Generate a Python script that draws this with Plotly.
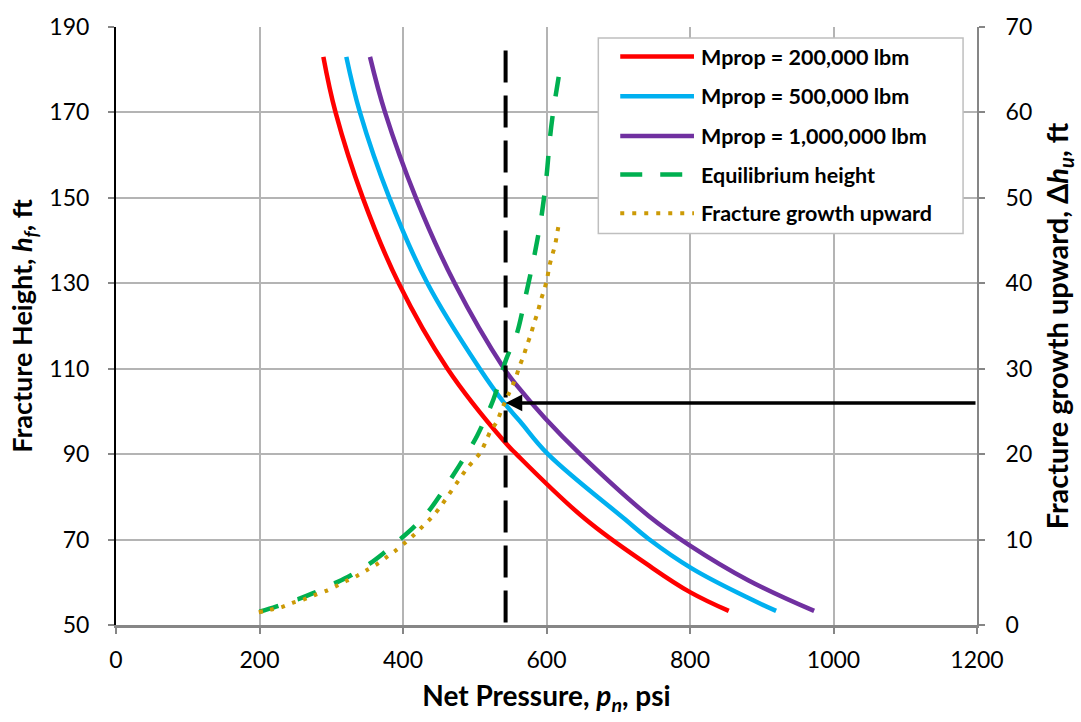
import plotly.graph_objects as go

# ---------------- data ----------------
red_p = [289, 306, 344, 394, 462, 541, 558, 654, 742, 800, 854]
red_h = [183, 170, 150, 130, 110, 93, 90, 74.8, 64, 57.7, 53.3]

blue_p = [321, 340, 381, 434, 507, 541, 563, 602, 709, 742, 803, 878, 920]
blue_h = [183, 170, 150, 130, 110, 102, 97.7, 90, 74.8, 70.2, 63.2, 56.6, 53.3]

purple_p = [354, 375, 418, 472, 541, 558, 598, 647, 742, 800, 881, 973]
purple_h = [183, 170, 150, 130, 110, 106.2, 98.4, 90, 75.6, 68.6, 60.5, 53.3]

eq_p = [200, 223, 253, 274, 304, 325, 353, 372, 397, 415, 436, 478, 503, 526, 544,
        559, 571, 583, 593, 600, 605, 610, 617]
eq_h = [53.1, 54.3, 56.0, 57.4, 59.7, 61.4, 64.3, 66.7, 70.2, 72.9, 76.7, 87.2, 94.2,
        102.8, 112.3, 118.4, 127.1, 136.4, 145.7, 155, 164.3, 171, 178.3]

up_p = [199, 215, 231, 246, 262, 277, 293, 308, 322, 337, 351, 365, 378, 391, 404, 416,
        428, 439, 450, 489, 508, 515, 522, 531, 537, 547, 557, 562, 568, 573, 578, 583,
        588, 592, 597, 601, 604, 608, 612, 615, 618]
up_dh = [1.5, 1.8, 2.1, 2.6, 3.0, 3.5, 4.0, 4.6, 5.2, 5.8, 6.5, 7.2, 8.0, 8.8, 9.7, 10.6,
         11.6, 12.5, 13.6, 18.3, 20.2, 21.4, 22.7, 23.8, 25.1, 27.0, 28.9, 30.2, 31.5, 32.8,
         34.0, 35.4, 36.7, 38.0, 39.3, 40.6, 42.0, 43.3, 44.5, 45.9, 47.3]

design_p = [543, 543]
design_h = [184.5, 50]
arrow_from_p = 1200
arrow_h = 102

legend_labels = ["Mprop = 200,000 lbm", "Mprop = 500,000 lbm", "Mprop = 1,000,000 lbm",
                 "Equilibrium height", "Fracture growth upward"]

x_ticks = [0, 200, 400, 600, 800, 1000, 1200]
y_ticks = [50, 70, 90, 110, 130, 150, 170, 190]
y2_ticks = [0, 10, 20, 30, 40, 50, 60, 70]

# ---------------- styling ----------------
RED = "#FF0000"
BLUE = "#00B0F0"
PURPLE = "#7030A0"
GREEN = "#00B050"
GOLD = "#CC9A06"
FONT = "Lato, 'Open Sans', sans-serif"
TICK_SIZE = 23
LTITLE_SIZE = 27
RTITLE_SIZE = 29
XTITLE_SIZE = 28
LEG_SIZE = 21.5

W, H = 1081, 722
L, R, T, B = 116, 101, 23, 97
PW, PH = W - L - R, H - T - B


def px(xp):
    return (xp - L) / PW


def py(yp):
    return (H - B - yp) / PH


fig = go.Figure()

fig.add_trace(go.Scatter(x=red_p, y=red_h, mode="lines", name=legend_labels[0],
                         line=dict(color=RED, width=4.5, shape="spline", smoothing=1.1)))
fig.add_trace(go.Scatter(x=blue_p, y=blue_h, mode="lines", name=legend_labels[1],
                         line=dict(color=BLUE, width=4.5, shape="spline", smoothing=1.1)))
fig.add_trace(go.Scatter(x=purple_p, y=purple_h, mode="lines", name=legend_labels[2],
                         line=dict(color=PURPLE, width=4.5, shape="spline", smoothing=1.1)))
fig.add_trace(go.Scatter(x=eq_p, y=eq_h, mode="lines", name=legend_labels[3],
                         line=dict(color=GREEN, width=4.5, dash="20px,20px",
                                   shape="spline", smoothing=0.8)))
fig.add_trace(go.Scatter(x=design_p, y=design_h, mode="lines", name="design",
                         line=dict(color="black", width=4, dash="32px,13px")))
fig.add_trace(go.Scatter(x=up_p, y=up_dh, mode="lines", name=legend_labels[4],
                         yaxis="y2",
                         line=dict(color=GOLD, width=4, dash="4px,7.5px",
                                   shape="spline", smoothing=0.8)))

annotations = [dict(x=design_p[0], y=arrow_h, ax=arrow_from_p, ay=arrow_h,
                    xref="x", yref="y", axref="x", ayref="y", text="",
                    showarrow=True, arrowhead=2, arrowsize=0.95, arrowwidth=3.5,
                    arrowcolor="black")]

# ---------------- legend box drawn as in the reference ----------------
shapes = [dict(type="rect", xref="paper", yref="paper",
               x0=px(600), x1=px(966), y0=py(231), y1=py(34),
               line=dict(color="#BFBFBF", width=1.5), fillcolor="white", layer="above")]
leg_y = [52.7, 92.7, 132.7, 171.5, 210.5]
leg_style = [dict(color=RED, width=4.5), dict(color=BLUE, width=4.5),
             dict(color=PURPLE, width=4.5), dict(color=GREEN, width=4.5, dash="22px,18px"),
             dict(color=GOLD, width=4, dash="4px,8px")]
for yy, st, lab in zip(leg_y, leg_style, legend_labels):
    shapes.append(dict(type="line", xref="paper", yref="paper",
                       x0=px(622), x1=px(696), y0=py(yy), y1=py(yy),
                       line=st, layer="above"))
    annotations.append(dict(x=px(701), y=py(yy), xref="paper", yref="paper",
                            text="<b>%s</b>" % lab, showarrow=False,
                            xanchor="left", yanchor="middle",
                            font=dict(family=FONT, size=LEG_SIZE, color="black")))

fig.update_layout(
    width=W, height=H,
    margin=dict(l=L, r=R, t=T, b=B, pad=0),
    paper_bgcolor="white", plot_bgcolor="white",
    font=dict(family=FONT, color="black"),
    showlegend=False,
    shapes=shapes,
    annotations=annotations,
    xaxis=dict(range=[0, 1200], tickvals=x_ticks, showgrid=True,
               gridcolor="#B4B4B4", gridwidth=1.5, zeroline=False,
               showline=True, linecolor="#868686", linewidth=2.5,
               ticks="outside", ticklen=6, tickcolor="#868686", tickwidth=2,
               ticklabelstandoff=7,
               tickfont=dict(family=FONT, size=TICK_SIZE, color="black"),
               title=dict(text="<b>Net Pressure, <i>p<sub>n</sub></i>, psi</b>",
                          font=dict(family=FONT, size=XTITLE_SIZE, color="black"),
                          standoff=15)),
    yaxis=dict(range=[50, 190], tickvals=y_ticks, showgrid=True,
               gridcolor="#B4B4B4", gridwidth=1.5, zeroline=False,
               showline=True, linecolor="black", linewidth=2,
               ticks="outside", ticklen=6, tickcolor="#868686", tickwidth=2,
               ticklabelstandoff=14,
               tickfont=dict(family=FONT, size=TICK_SIZE, color="black"),
               title=dict(text="<b>Fracture Height, <i>h<sub>f</sub></i>, ft</b>",
                          font=dict(family=FONT, size=LTITLE_SIZE, color="black"),
                          standoff=9)),
    yaxis2=dict(range=[0, 70], tickvals=y2_ticks, overlaying="y", side="right",
                showgrid=False, zeroline=False,
                showline=True, linecolor="#868686", linewidth=2,
                ticks="outside", ticklen=6, tickcolor="#868686", tickwidth=2,
                ticklabelstandoff=16,
                tickfont=dict(family=FONT, size=TICK_SIZE, color="black"),
                title=dict(text="<b>Fracture growth upward, Δ<i>h<sub>u</sub></i>, ft</b>",
                           font=dict(family=FONT, size=RTITLE_SIZE, color="black"),
                           standoff=16)),
)

fig.write_html("out.html")
